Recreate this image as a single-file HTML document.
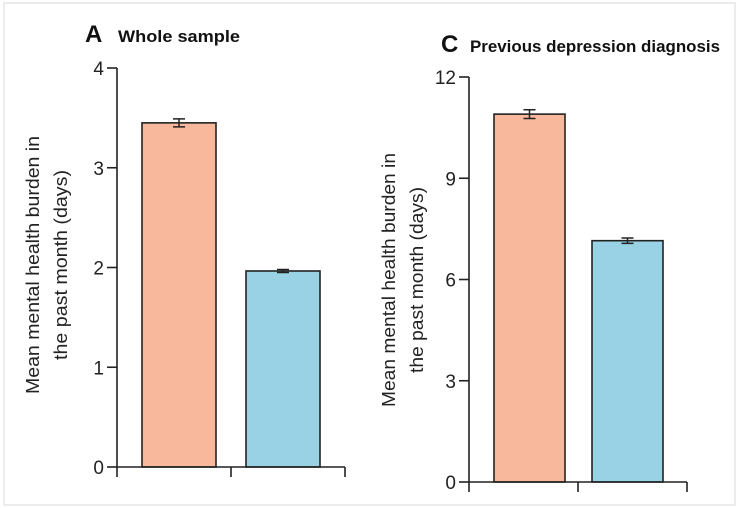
<!DOCTYPE html>
<html><head><meta charset="utf-8"><style>
html,body{margin:0;padding:0;background:#fff;}
svg{display:block;font-family:"Liberation Sans",sans-serif;}
</style></head><body>
<svg id="chart" width="739" height="508" viewBox="0 0 739 508">
<rect x="4" y="3" width="731" height="502" fill="#fff" stroke="#e6e6e6" stroke-width="1.5"/>
<g id="pa"></g>
<g id="pc"></g>
</svg>
<script>
const categories = ["Group 1", "Group 2"];
const panelAValues = [3.45, 1.965];
const panelAErrors = [0.04, 0.015];
const panelATicks = [0, 1, 2, 3, 4];
const panelCValues = [10.9, 7.15];
const panelCErrors = [0.13, 0.08];
const panelCTicks = [0, 3, 6, 9, 12];
const colors = ["#f7b89c", "#98d2e4"];
const NS = "http://www.w3.org/2000/svg";
function mk(parent, tag, attrs, text) {
  const e = document.createElementNS(NS, tag);
  for (const k in attrs) e.setAttribute(k, attrs[k]);
  if (text !== undefined) e.textContent = text;
  parent.appendChild(e);
  return e;
}
function drawPanel(g, cfg) {
  const y = v => cfg.y0 - (v / cfg.max) * (cfg.y0 - cfg.yTop);
  let t = mk(g, "text", {x: cfg.letterX, y: cfg.titleY, "font-size": 24, "font-weight": "bold", fill: "#111"}, cfg.letter);
  
  
  t = mk(g, "text", {x: cfg.titleX, y: cfg.titleY, "font-size": 17, "font-weight": "bold", fill: "#111", textLength: cfg.titleW, lengthAdjust: "spacingAndGlyphs"}, cfg.title);
  
  
  const yl = mk(g, "text", {transform: `translate(${cfg.ylX},${cfg.ylY}) rotate(-90)`, "text-anchor": "middle", "font-size": 18, fill: "#222"});
  
  
  mk(yl, "tspan", {x: 0, dy: 0, textLength: cfg.ylW, lengthAdjust: "spacingAndGlyphs"}, "Mean mental health burden in");
  mk(yl, "tspan", {x: 0, dy: 28, textLength: cfg.ylW2, lengthAdjust: "spacingAndGlyphs"}, "the past month (days)");
  cfg.values.forEach((v, i) => {
    const x0 = cfg.barX[i];
    const r = mk(g, "rect", {x: x0, y: y(v), width: cfg.barW, height: cfg.y0 - y(v), fill: colors[i], stroke: "#222", "stroke-width": 1.6});
    
    
    const cx = x0 + cfg.barW / 2, e = cfg.errors[i];
    const eb = mk(g, "path", {d: `M${cx},${y(v + e)}V${y(v - e)}M${cx - 6},${y(v + e)}H${cx + 6}M${cx - 6},${y(v - e)}H${cx + 6}`, stroke: "#222", "stroke-width": 1.5, fill: "none"});
    
    
  });
  const ya = mk(g, "line", {x1: cfg.ax, y1: y(cfg.max), x2: cfg.ax, y2: cfg.y0 + 10, stroke: "#222", "stroke-width": 1.6});
  
  
  const xa = mk(g, "path", {d: `M${cfg.ax},${cfg.y0}H${cfg.xEnd}M${cfg.midTick},${cfg.y0}v10M${cfg.xEnd},${cfg.y0}v10`, stroke: "#222", "stroke-width": 1.6, fill: "none"});
  
  
  cfg.ticks.forEach(tk => {
    const l = mk(g, "line", {x1: cfg.ax - 10, x2: cfg.ax, y1: y(tk), y2: y(tk), stroke: "#222", "stroke-width": 1.6});
    
    
    const tl = mk(g, "text", {x: cfg.ax - 13, y: y(tk) + 7, "text-anchor": "end", "font-size": 19, fill: "#222"}, String(tk));
    
    
  });
}
drawPanel(document.getElementById("pa"), {
  letter: "A", title: "Whole sample", letterX: 85, titleX: 118, titleY: 42, titleW: 122,
  values: panelAValues, errors: panelAErrors, ticks: panelATicks, max: 4,
  y0: 467, yTop: 68, ax: 117, xEnd: 345, midTick: 231, barX: [142, 246], barW: 74,
  ylX: 39, ylY: 265, ylW: 258, ylW2: 190
});
drawPanel(document.getElementById("pc"), {
  letter: "C", title: "Previous depression diagnosis", letterX: 441, titleX: 470, titleY: 52, titleW: 250,
  values: panelCValues, errors: panelCErrors, ticks: panelCTicks, max: 12,
  y0: 482, yTop: 77, ax: 469, xEnd: 687, midTick: 578, barX: [494, 592], barW: 71,
  ylX: 395, ylY: 280, ylW: 254, ylW2: 186
});
</script>
</body></html>
